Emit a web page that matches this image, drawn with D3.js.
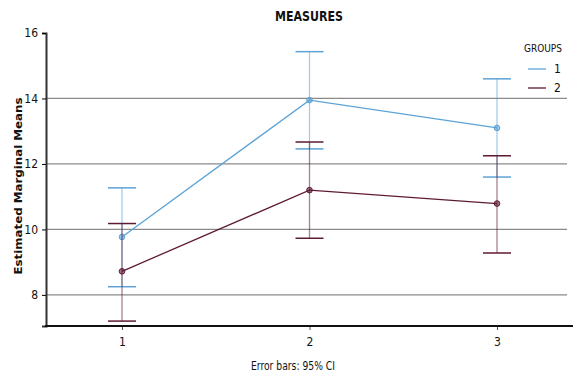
<!DOCTYPE html>
<html>
<head>
<meta charset="utf-8">
<script src="https://cdn.jsdelivr.net/npm/d3@7.9.0/dist/d3.min.js"></script>
<style>
  body { margin: 0; background: #fff; }
  text { font-family: "Liberation Sans Narrow", "DejaVu Sans Condensed", sans-serif; fill: #111; }
</style>
</head>
<body>
<svg id="chart" width="573" height="376"></svg>
<script>
const categories = [1, 2, 3];
const groups = ['1', '2'];
const means = [[9.77, 13.95, 13.1], [8.72, 11.2, 10.79]];
const lower = [[8.25, 12.46, 11.6], [7.2, 9.73, 9.28]];
const upper = [[11.27, 15.43, 14.6], [10.18, 12.67, 12.25]];
const yTicks = [8, 10, 12, 14, 16];
const colors = ['#5ba3d6', '#5e1a35'];

const svg = d3.select('#chart');
const plotLeft = 46, plotRight = 573, plotTop = 33, plotBottom = 326;

let x = d3.scalePoint().domain(categories).range([122, 497]);
let y = d3.scaleLinear().domain([7.05, 16]).range([plotBottom, plotTop]);

// gridlines
svg.append('g')
  .selectAll('line')
  .data(yTicks.filter(d => d < 16))
  .join('line')
  .attr('x1', plotLeft).attr('x2', 567)
  .attr('y1', d => y(d)).attr('y2', d => y(d))
  .attr('stroke', '#8a8a8a').attr('stroke-width', 1.2);

// y axis
let yAxis = svg.append('g')
  .attr('transform', `translate(${plotLeft},0)`)
  .call(d3.axisLeft(y).tickValues(yTicks).tickSize(4).tickPadding(4));
yAxis.select('.domain').attr('stroke', '#333').attr('stroke-width', 2);
yAxis.selectAll('text').attr('font-size', 12).attr('font-family', '"Liberation Sans Narrow", "DejaVu Sans Condensed", sans-serif');

// x axis
let xAxis = svg.append('g')
  .attr('transform', `translate(0,${plotBottom})`)
  .call(d3.axisBottom(x).tickSize(4).tickPadding(7));
xAxis.select('.domain').remove();
xAxis.selectAll('.tick line').attr('stroke', '#555');
xAxis.selectAll('text').attr('font-size', 12).attr('font-family', '"Liberation Sans Narrow", "DejaVu Sans Condensed", sans-serif');
svg.append('line')
  .attr('x1', plotLeft - 1).attr('x2', plotRight)
  .attr('y1', plotBottom).attr('y2', plotBottom)
  .attr('stroke', '#111').attr('stroke-width', 2);

// series
groups.forEach((g, gi) => {
  let pts = categories.map((c, i) => ({ c, m: means[gi][i], lo: lower[gi][i], hi: upper[gi][i] }));
  let gr = svg.append('g');

  // error bars
  pts.forEach(p => {
    gr.append('line')
      .attr('x1', x(p.c)).attr('x2', x(p.c))
      .attr('y1', y(p.lo)).attr('y2', y(p.hi))
      .attr('stroke', colors[gi]).attr('stroke-opacity', 0.55).attr('stroke-width', 1.3);
    [p.lo, p.hi].forEach(v => {
      gr.append('line')
        .attr('x1', x(p.c) - 14).attr('x2', x(p.c) + 14)
        .attr('y1', y(v)).attr('y2', y(v))
        .attr('stroke', colors[gi]).attr('stroke-width', 1.5);
    });
  });

  gr.append('path')
    .datum(pts)
    .attr('d', d3.line().x(d => x(d.c)).y(d => y(d.m)))
    .attr('fill', 'none')
    .attr('stroke', colors[gi]).attr('stroke-width', 1.3);

  gr.selectAll('circle')
    .data(pts)
    .join('circle')
    .attr('cx', d => x(d.c)).attr('cy', d => y(d.m))
    .attr('r', 2.8)
    .attr('fill', colors[gi]).attr('fill-opacity', 0.6)
    .attr('stroke', colors[gi]).attr('stroke-width', 1);
});

// title
svg.append('text')
  .attr('x', 309).attr('y', 21)
  .attr('text-anchor', 'middle')
  .attr('font-size', 14).attr('font-weight', 'bold')
  .attr('textLength', 68).attr('lengthAdjust', 'spacingAndGlyphs')
  .text('MEASURES');

// y label
svg.append('text')
  .attr('transform', 'translate(22,186) rotate(-90)')
  .attr('text-anchor', 'middle')
  .attr('font-size', 11).attr('font-weight', 'bold')
  .style('font-family', '"DejaVu Sans", sans-serif')
  .attr('textLength', 177).attr('lengthAdjust', 'spacingAndGlyphs')
  .text('Estimated Marginal Means');

// footnote
svg.append('text')
  .attr('x', 293).attr('y', 370)
  .attr('text-anchor', 'middle')
  .attr('font-size', 12)
  .attr('textLength', 84).attr('lengthAdjust', 'spacingAndGlyphs')
  .text('Error bars: 95% CI');

// legend
let legend = svg.append('g');
legend.append('text')
  .attr('x', 543).attr('y', 52)
  .attr('text-anchor', 'middle')
  .attr('font-size', 11)
  .attr('textLength', 38).attr('lengthAdjust', 'spacingAndGlyphs')
  .text('GROUPS');
groups.forEach((g, gi) => {
  let ly = 69 + gi * 19;
  legend.append('line')
    .attr('x1', 528).attr('x2', 546)
    .attr('y1', ly).attr('y2', ly)
    .attr('stroke', colors[gi]).attr('stroke-width', 1.3);
  legend.append('text')
    .attr('x', 554).attr('y', ly + 4)
    .attr('font-size', 12)
    .text(g);
});
</script>
</body>
</html>
